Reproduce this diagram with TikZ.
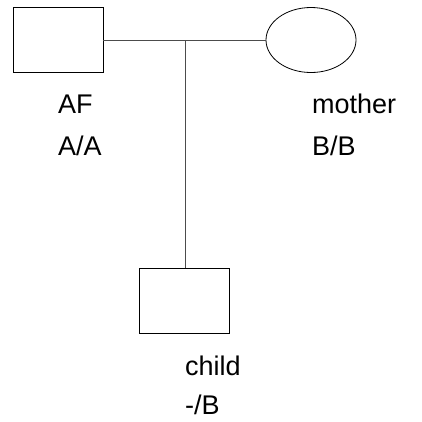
\documentclass[tikz,border=0pt]{standalone}
\usepackage{fontspec}
\setmainfont{Liberation Sans}
\usetikzlibrary{shapes.geometric}

\tikzset{
  male/.style={draw, minimum width=90pt, minimum height=65pt, inner sep=0pt, line width=0.8pt},
  female/.style={draw, ellipse, minimum width=90pt, minimum height=65pt, inner sep=0pt, line width=0.8pt},
  tag/.style={anchor=base west, inner sep=0pt, font=\fontsize{27}{32}\selectfont},
  link/.style={line width=0.8pt, black!70}
}

\begin{document}
\begin{tikzpicture}[x=1pt, y=-1pt]
        \useasboundingbox (0,0) rectangle (422,421);
        % parents and child
        \node[male]   (dad) at (58,40)   {};
        \node[female] (mum) at (311,40)  {};
        \node[male]   (kid) at (184,301) {};
        % names and genotypes
        \node[tag] (dadname) at (58,113)  {AF};
        \node[tag] (dadgeno) at (58,155)  {A/A};
        \node[tag] (mumname) at (312,113) {mother};
        \node[tag] (mumgeno) at (312,155) {B/B};
        \node[tag] (kidname) at (185,375) {child};
        \node[tag] (kidgeno) at (185,414) {-/B};
        % mating line and descent line
        \draw[link] (dad.east) -- (mum.west);
        \coordinate (mate) at (185,40);
        \draw[link] (mate) -- (mate |- kid.north);
\end{tikzpicture}
\end{document}
